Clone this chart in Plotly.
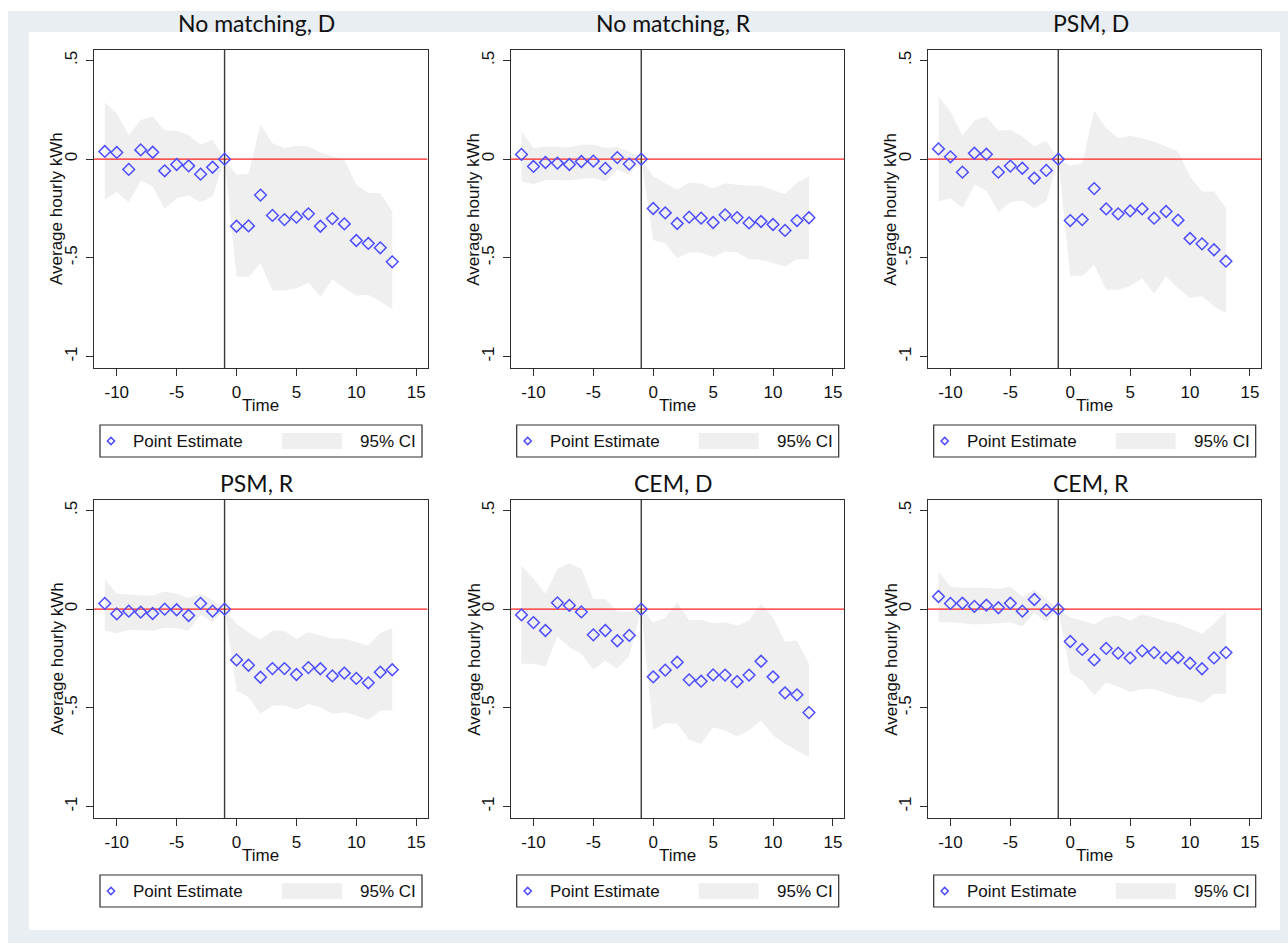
import plotly.graph_objects as go

# ---------------------------------------------------------------- data
TIME = list(range(-11, 14))

NOMATCH_D_EST = [0.039, 0.034, -0.052, 0.047, 0.035, -0.059, -0.027, -0.034, -0.076, -0.041, 0.0,
                 -0.340, -0.338, -0.182, -0.285, -0.306, -0.294, -0.277, -0.340, -0.301, -0.328,
                 -0.412, -0.427, -0.449, -0.520]
NOMATCH_D_HI = [0.287, 0.233, 0.123, 0.199, 0.216, 0.145, 0.145, 0.123, 0.073, 0.098, 0.0,
                -0.079, -0.074, 0.174, 0.081, 0.056, 0.068, 0.064, 0.034, 0.014, -0.003,
                -0.130, -0.172, -0.172, -0.265]
NOMATCH_D_LO = [-0.206, -0.167, -0.220, -0.108, -0.139, -0.252, -0.198, -0.184, -0.218, -0.189, 0.0,
                -0.595, -0.598, -0.527, -0.666, -0.666, -0.654, -0.625, -0.696, -0.608, -0.654,
                -0.691, -0.688, -0.721, -0.760]

NOMATCH_R_EST = [0.024, -0.037, -0.017, -0.020, -0.027, -0.012, -0.010, -0.047, 0.008, -0.025, 0.0,
                 -0.250, -0.272, -0.326, -0.294, -0.299, -0.321, -0.282, -0.296, -0.323, -0.316,
                 -0.331, -0.361, -0.311, -0.297]
NOMATCH_R_HI = [0.140, 0.056, 0.064, 0.064, 0.061, 0.073, 0.073, 0.056, 0.061, 0.039, 0.0,
                -0.088, -0.122, -0.155, -0.118, -0.125, -0.147, -0.122, -0.130, -0.135, -0.135,
                -0.155, -0.177, -0.118, -0.088]
NOMATCH_R_LO = [-0.113, -0.127, -0.105, -0.105, -0.108, -0.101, -0.096, -0.113, -0.054, -0.079, 0.0,
                -0.409, -0.426, -0.502, -0.473, -0.473, -0.497, -0.468, -0.473, -0.507, -0.510,
                -0.527, -0.544, -0.507, -0.507]

PSM_D_EST = [0.052, 0.012, -0.066, 0.030, 0.025, -0.066, -0.035, -0.046, -0.096, -0.057, 0.0,
             -0.311, -0.306, -0.149, -0.252, -0.277, -0.262, -0.252, -0.299, -0.265, -0.309,
             -0.402, -0.429, -0.459, -0.517]
PSM_D_HI = [0.318, 0.242, 0.118, 0.196, 0.216, 0.144, 0.149, 0.115, 0.064, 0.093, 0.0,
            -0.034, -0.020, 0.245, 0.157, 0.106, 0.118, 0.106, 0.090, 0.064, 0.039,
            -0.088, -0.164, -0.164, -0.248]
PSM_D_LO = [-0.215, -0.198, -0.248, -0.130, -0.160, -0.270, -0.218, -0.209, -0.248, -0.215, 0.0,
            -0.591, -0.591, -0.535, -0.662, -0.662, -0.642, -0.603, -0.682, -0.595, -0.654,
            -0.704, -0.693, -0.747, -0.780]

PSM_R_EST = [0.029, -0.024, -0.010, -0.015, -0.022, 0.000, -0.003, -0.032, 0.029, -0.010, 0.0,
             -0.257, -0.284, -0.345, -0.301, -0.301, -0.331, -0.296, -0.302, -0.338, -0.324,
             -0.351, -0.373, -0.319, -0.307]
PSM_R_HI = [0.154, 0.078, 0.074, 0.069, 0.069, 0.090, 0.078, 0.057, 0.078, 0.047, 0.0,
            -0.074, -0.117, -0.155, -0.108, -0.111, -0.150, -0.117, -0.133, -0.150, -0.150,
            -0.167, -0.184, -0.122, -0.096]
PSM_R_LO = [-0.108, -0.122, -0.105, -0.108, -0.108, -0.096, -0.096, -0.108, -0.027, -0.066, 0.0,
            -0.412, -0.446, -0.530, -0.488, -0.488, -0.510, -0.480, -0.497, -0.530, -0.522,
            -0.539, -0.561, -0.514, -0.514]

CEM_D_EST = [-0.029, -0.068, -0.108, 0.032, 0.019, -0.014, -0.130, -0.108, -0.160, -0.133, 0.0,
             -0.343, -0.309, -0.269, -0.358, -0.365, -0.333, -0.334, -0.367, -0.334, -0.264,
             -0.343, -0.424, -0.434, -0.524]
CEM_D_HI = [0.221, 0.154, 0.078, 0.204, 0.233, 0.204, 0.052, 0.052, -0.012, -0.015, 0.0,
            -0.066, -0.044, 0.035, -0.057, -0.054, -0.071, -0.066, -0.083, -0.057, 0.027,
            -0.041, -0.167, -0.159, -0.277]
CEM_D_LO = [-0.277, -0.277, -0.291, -0.139, -0.193, -0.226, -0.306, -0.260, -0.302, -0.235, 0.0,
            -0.612, -0.578, -0.581, -0.662, -0.682, -0.598, -0.615, -0.645, -0.615, -0.564,
            -0.640, -0.682, -0.716, -0.750]

CEM_R_EST = [0.064, 0.029, 0.030, 0.014, 0.020, 0.007, 0.030, -0.010, 0.049, -0.005, 0.0,
             -0.164, -0.204, -0.257, -0.199, -0.223, -0.247, -0.211, -0.220, -0.247, -0.245,
             -0.274, -0.302, -0.247, -0.220]
CEM_R_HI = [0.191, 0.115, 0.108, 0.108, 0.108, 0.103, 0.115, 0.064, 0.098, 0.052, 0.0,
            -0.041, -0.057, -0.078, -0.041, -0.032, -0.057, -0.024, -0.044, -0.061, -0.074,
            -0.100, -0.125, -0.074, -0.012]
CEM_R_LO = [-0.066, -0.066, -0.071, -0.078, -0.074, -0.071, -0.066, -0.088, -0.020, -0.066, 0.0,
            -0.324, -0.361, -0.437, -0.370, -0.392, -0.421, -0.404, -0.404, -0.426, -0.446,
            -0.454, -0.476, -0.429, -0.429]

PANEL_TITLES = ["No matching, D", "No matching, R", "PSM, D", "PSM, R", "CEM, D", "CEM, R"]
PANELS = [
    (NOMATCH_D_EST, NOMATCH_D_LO, NOMATCH_D_HI),
    (NOMATCH_R_EST, NOMATCH_R_LO, NOMATCH_R_HI),
    (PSM_D_EST, PSM_D_LO, PSM_D_HI),
    (PSM_R_EST, PSM_R_LO, PSM_R_HI),
    (CEM_D_EST, CEM_D_LO, CEM_D_HI),
    (CEM_R_EST, CEM_R_LO, CEM_R_HI),
]

Y_TICKS = [-1, -0.5, 0, 0.5]
Y_TICK_TEXT = ["-1", "-.5", "0", ".5"]
X_TICKS = [-10, -5, 0, 5, 10, 15]
X_TICK_TEXT = ["-10", "-5", "0", "5", "10", "15"]
EVENT_TIME = -1      # vertical reference line
NULL_EFFECT = 0      # horizontal reference line
X_RANGE = [-11.9, 15.95]
Y_RANGE = [-1.058, 0.553]

# ---------------------------------------------------------------- layout helpers
W, H = 1288, 943
def px(x):
    return x / W
def py(y):
    return 1 - y / H

COL_LEFT = [94, 510.7, 927.7]
ROW_TOP = [50, 500]
FRAME_W = 333.6
FRAME_H = 318.0
TITLE_Y = [23, 483]

MARKER_COLOR = "#4d4dff"
CI_COLOR = "#efefef"
FRAME_COLOR = "#2e2e2e"
AXIS_FONT = dict(family="Liberation Sans, Arial, sans-serif", size=17, color="#111111")
TITLE_FONT = dict(family="Lato, Open Sans, sans-serif", size=23, color="#111111")

fig = go.Figure()
shapes = []
annotations = []

# backdrop: blue-grey band with a white sheet on top
shapes.append(dict(type="rect", xref="paper", yref="paper", x0=px(8), x1=px(1288), y0=py(943), y1=py(11),
                   fillcolor="#e8eef2", line=dict(width=0), layer="below"))
shapes.append(dict(type="rect", xref="paper", yref="paper", x0=px(29), x1=px(1280), y0=py(930), y1=py(32),
                   fillcolor="#ffffff", line=dict(width=0), layer="below"))

for i, (est, lo, hi) in enumerate(PANELS):
    r, c = divmod(i, 3)
    n = "" if i == 0 else str(i + 1)
    xa, ya = "x" + n, "y" + n
    left = COL_LEFT[c]
    top = ROW_TOP[r]
    right = left + FRAME_W
    bottom = top + FRAME_H

    # confidence band
    fig.add_trace(go.Scatter(
        x=TIME + TIME[::-1], y=hi + lo[::-1], fill="toself", fillcolor=CI_COLOR,
        line=dict(width=0), mode="lines", hoverinfo="skip", showlegend=False,
        xaxis=xa, yaxis=ya))
    # reference lines
    fig.add_trace(go.Scatter(
        x=X_RANGE, y=[NULL_EFFECT, NULL_EFFECT], mode="lines",
        line=dict(color="#ff2020", width=1.4), hoverinfo="skip", showlegend=False,
        xaxis=xa, yaxis=ya))
    fig.add_trace(go.Scatter(
        x=[EVENT_TIME, EVENT_TIME], y=Y_RANGE, mode="lines",
        line=dict(color="#3a3a3a", width=1.4), hoverinfo="skip", showlegend=False,
        xaxis=xa, yaxis=ya))
    # point estimates
    fig.add_trace(go.Scatter(
        x=TIME, y=est, mode="markers", showlegend=False,
        marker=dict(symbol="diamond-open", size=9, color=MARKER_COLOR, line=dict(width=1.5)),
        xaxis=xa, yaxis=ya))

    axis_common = dict(showgrid=False, zeroline=False, showline=True, mirror=True,
                       linecolor=FRAME_COLOR, linewidth=1.3, ticks="outside", ticklen=7,
                       tickwidth=1.2, tickcolor=FRAME_COLOR, tickfont=AXIS_FONT)
    fig.update_layout(**{
        "xaxis" + n: dict(domain=[px(left), px(right)], range=X_RANGE, anchor=ya,
                          tickvals=X_TICKS, ticktext=X_TICK_TEXT, ticklabelstandoff=1,
                          **axis_common),
        "yaxis" + n: dict(domain=[py(bottom), py(top)], range=Y_RANGE, anchor=xa,
                          tickvals=Y_TICKS, ticktext=Y_TICK_TEXT, tickangle=-90,
                          ticklabelstandoff=2, **axis_common),
    })

    cx = (left + right) / 2
    annotations.append(dict(text=PANEL_TITLES[i], x=px(cx - 4), y=py(TITLE_Y[r]), xref="paper", yref="paper",
                            showarrow=False, xanchor="center", yanchor="middle", font=TITLE_FONT))
    annotations.append(dict(text="Time", x=px(cx), y=py(bottom + 37), xref="paper", yref="paper",
                            showarrow=False, xanchor="center", yanchor="middle", font=AXIS_FONT))
    annotations.append(dict(text="Average hourly kWh", x=px(left - 37), y=py((top + bottom) / 2),
                            xref="paper", yref="paper", textangle=-90, showarrow=False,
                            xanchor="center", yanchor="middle", font=AXIS_FONT))

    # legend key below each panel
    bx0, bx1 = left + 6, left + 328
    by0, by1 = bottom + 57, bottom + 89
    bym = (by0 + by1) / 2
    shapes.append(dict(type="rect", xref="paper", yref="paper", x0=px(bx0), x1=px(bx1),
                       y0=py(by1), y1=py(by0), line=dict(color=FRAME_COLOR, width=1.2),
                       fillcolor="#ffffff"))
    mx, d = bx0 + 11, 3.6
    shapes.append(dict(type="path", xref="paper", yref="paper",
                       path=(f"M {px(mx - d)},{py(bym)} L {px(mx)},{py(bym - d)} "
                             f"L {px(mx + d)},{py(bym)} L {px(mx)},{py(bym + d)} Z"),
                       line=dict(color=MARKER_COLOR, width=1.5)))
    annotations.append(dict(text="Point Estimate", x=px(bx0 + 31), y=py(bym), xref="paper", yref="paper",
                            showarrow=False, xanchor="left", yanchor="middle", font=AXIS_FONT))
    shapes.append(dict(type="rect", xref="paper", yref="paper", x0=px(bx0 + 182), x1=px(bx0 + 242),
                       y0=py(by1 - 8), y1=py(by0 + 8), line=dict(width=0), fillcolor=CI_COLOR))
    annotations.append(dict(text="95% CI", x=px(bx1 - 4), y=py(bym), xref="paper", yref="paper",
                            showarrow=False, xanchor="right", yanchor="middle", font=AXIS_FONT))

fig.update_layout(
    width=W, height=H, autosize=False,
    margin=dict(l=0, r=0, t=0, b=0),
    paper_bgcolor="#ffffff", plot_bgcolor="rgba(0,0,0,0)",
    shapes=shapes, annotations=annotations, showlegend=False,
)

fig.write_html("out.html")
